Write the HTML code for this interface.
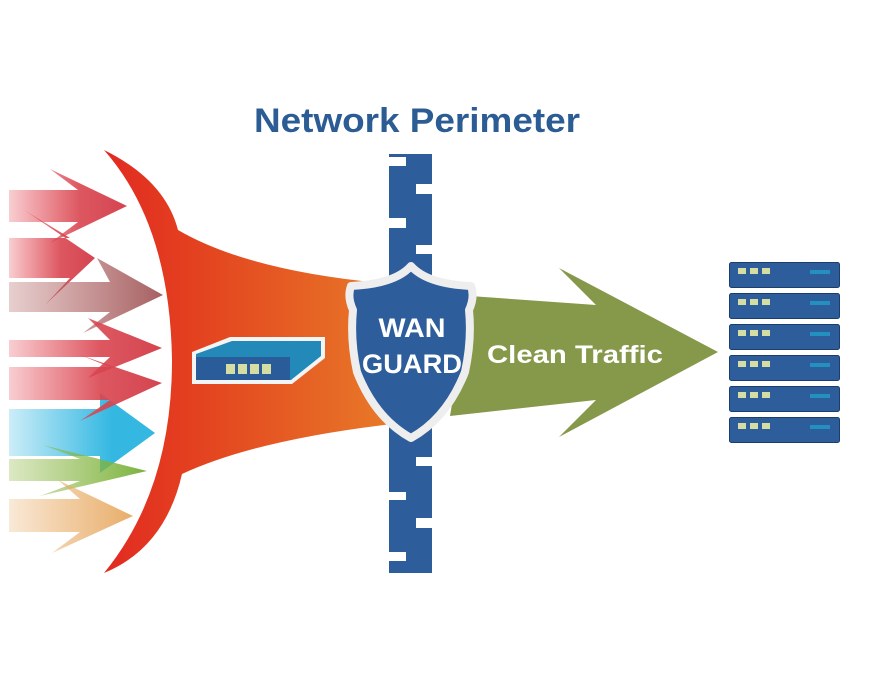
<!DOCTYPE html>
<html><head><meta charset="utf-8"><style>html,body{margin:0;padding:0;background:#fff;}svg{display:block}</style></head>
<body>
<svg width="880" height="698" viewBox="0 0 880 698" xmlns="http://www.w3.org/2000/svg">
<defs>
<linearGradient id="fun" x1="0" x2="1" y1="0" y2="0"><stop offset="0" stop-color="#e22a22"/><stop offset="0.3" stop-color="#e3401f"/><stop offset="1" stop-color="#e87a28"/></linearGradient>
<linearGradient id="gr" x1="0" x2="1"><stop offset="0" stop-color="#e23c48" stop-opacity="0.25"/><stop offset="0.6" stop-color="#d9444f" stop-opacity="0.9"/><stop offset="1" stop-color="#d44550"/></linearGradient>
<linearGradient id="gb" x1="0" x2="1"><stop offset="0" stop-color="#b06060" stop-opacity="0.3"/><stop offset="1" stop-color="#a66062"/></linearGradient>
<linearGradient id="gbl" x1="0" x2="1"><stop offset="0" stop-color="#34b8e2" stop-opacity="0.25"/><stop offset="0.7" stop-color="#34b8e2"/><stop offset="1" stop-color="#34b8e2"/></linearGradient>
<linearGradient id="gg" x1="0" x2="1"><stop offset="0" stop-color="#8ab43c" stop-opacity="0.3"/><stop offset="1" stop-color="#7ab33e"/></linearGradient>
<linearGradient id="go" x1="0" x2="1"><stop offset="0" stop-color="#e8a860" stop-opacity="0.25"/><stop offset="1" stop-color="#e8ae6a"/></linearGradient>
</defs>

<!-- left arrows -->
<polygon points="9,409 100,409 100,393 155,433 100,473 100,456 9,456" fill="url(#gbl)"/>
<polygon points="9,190 78,190 50,169 127,206 50,243 78,222 9,222" fill="url(#gr)"/>
<polygon points="9,238 70,238 24,210 95,258 45,305 70,278 9,278" fill="url(#gr)"/>
<polygon points="9,282 110,282 97,258 163,295 83,333 110,312 9,312" fill="url(#gb)"/>
<polygon points="9,340 110,340 88,318 162,348 88,378 110,357 9,357" fill="url(#gr)"/>
<polygon points="9,367 110,367 80,355 162,383 80,421 110,400 9,400" fill="url(#gr)"/>
<polygon points="9,459 80,459 43,445 147,471 40,496 80,481 9,481" fill="url(#gg)"/>
<polygon points="9,499 80,499 58,480 133,516 52,553 80,532 9,532" fill="url(#go)"/>

<!-- funnel -->
<path d="M104,150 Q165,180 178,230 Q250,272 392,284 L392,424 Q255,440 182,474 Q165,548 104,573 Q172,490 172,360 Q170,225 104,150 Z" fill="url(#fun)"/>

<!-- device -->
<path d="M192,352 L230,337 L325,337 L325,358 L292,384 L192,384 Z" fill="#f4f4f4"/>
<path d="M196,354 L232,341 L321,341 L321,356 L291,380 L196,380 Z" fill="#2389b8"/>
<path d="M196,357 L290,357 L290,380 L196,380 Z" fill="#2b5c9a"/>
<rect x="226" y="364" width="9" height="10" fill="#d6dda2"/><rect x="238" y="364" width="9" height="10" fill="#d6dda2"/><rect x="250" y="364" width="9" height="10" fill="#d6dda2"/><rect x="262" y="364" width="9" height="10" fill="#d6dda2"/>

<!-- wall -->
<rect x="389" y="154" width="43" height="419" fill="#2d5d9b"/>
<g fill="#fff">
<rect x="389" y="157" width="17" height="9"/>
<rect x="416" y="184" width="16" height="10"/>
<rect x="389" y="218" width="17" height="10"/>
<rect x="416" y="245" width="16" height="9"/>
<rect x="416" y="457" width="16" height="9"/>
<rect x="389" y="492" width="17" height="8"/>
<rect x="416" y="518" width="16" height="10"/>
<rect x="389" y="552" width="17" height="9"/>
</g>

<!-- green arrow -->
<polygon points="470,296 596,305 559,268 718,352 559,437 596,400 450,416" fill="#86984a"/>

<!-- shield -->
<path d="M411,266 Q395,284 351,286 Q347,297 353,310 Q350,340 357,372 Q375,418 411,438 Q447,418 465,372 Q472,340 469,310 Q475,297 471,286 Q427,284 411,266 Z" fill="#2d5d9b" stroke="#eeeeee" stroke-width="8" stroke-linejoin="round"/>
<text x="412" y="337" text-anchor="middle" font-family="Liberation Sans, sans-serif" font-weight="bold" font-size="27" fill="#fff" textLength="67" lengthAdjust="spacingAndGlyphs">WAN</text>
<text x="412" y="373" text-anchor="middle" font-family="Liberation Sans, sans-serif" font-weight="bold" font-size="27" fill="#fff" textLength="100" lengthAdjust="spacingAndGlyphs">GUARD</text>
<text x="487" y="363" font-family="Liberation Sans, sans-serif" font-weight="bold" font-size="25" fill="#fff" textLength="176" lengthAdjust="spacingAndGlyphs">Clean Traffic</text>

<text x="254" y="132" font-family="Liberation Sans, sans-serif" font-weight="bold" font-size="34" fill="#2b5c94" textLength="326" lengthAdjust="spacingAndGlyphs">Network Perimeter</text>

<!-- servers -->
<g id="srv">
<rect x="729.5" y="262.5" width="110" height="25" rx="2" fill="#2d5d9b" stroke="#1c3e6a"/>
<rect x="738" y="268" width="8" height="6" fill="#d6dda2"/><rect x="750" y="268" width="8" height="6" fill="#d6dda2"/><rect x="762" y="268" width="8" height="6" fill="#d6dda2"/>
<rect x="810" y="270" width="20" height="4" fill="#2390c0"/>
</g>
<use href="#srv" y="31"/><use href="#srv" y="62"/><use href="#srv" y="93"/><use href="#srv" y="124"/><use href="#srv" y="155"/>
</svg>
</body></html>
